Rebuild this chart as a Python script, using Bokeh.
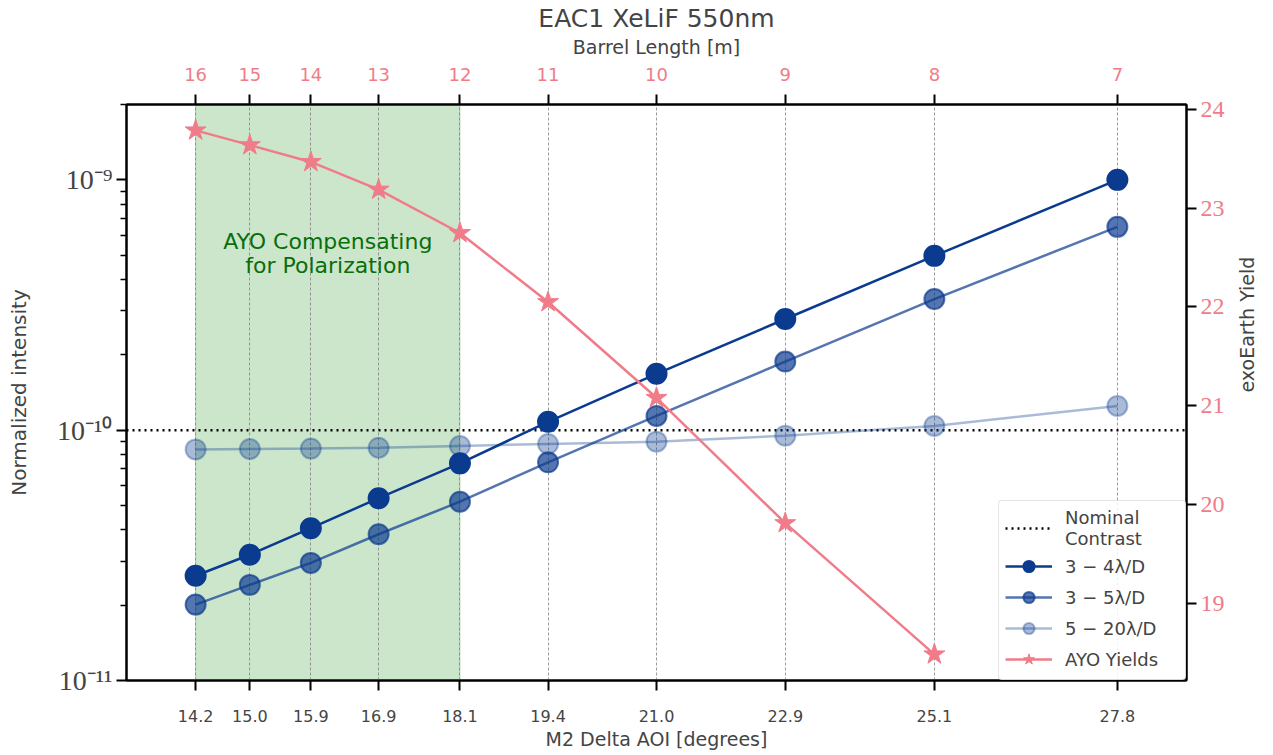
import math
from bokeh.plotting import figure
from bokeh.models import (Range1d, LinearAxis, LinearScale, FixedTicker, BoxAnnotation, Label,
                          Legend, LegendItem)
from bokeh.embed import file_html
from bokeh.resources import INLINE

# ---------------- data ----------------
aoi = [14.2, 15.0, 15.9, 16.9, 18.1, 19.4, 21.0, 22.9, 25.1, 27.8]
barrel_length = [16, 15, 14, 13, 12, 11, 10, 9, 8, 7]
contrast_3_4 = [2.62e-11, 3.18e-11, 4.06e-11, 5.35e-11, 7.37e-11, 1.08e-10, 1.68e-10, 2.78e-10, 4.97e-10, 1.0e-9]
contrast_3_5 = [2.01e-11, 2.41e-11, 2.95e-11, 3.84e-11, 5.18e-11, 7.44e-11, 1.14e-10, 1.88e-10, 3.34e-10, 6.49e-10]
contrast_5_20 = [8.38e-11, 8.41e-11, 8.44e-11, 8.51e-11, 8.65e-11, 8.81e-11, 9.00e-11, 9.51e-11, 1.04e-10, 1.25e-10]
yield_aoi = [14.2, 15.0, 15.9, 16.9, 18.1, 19.4, 21.0, 22.9, 25.1]
ayo_yields = [23.79, 23.64, 23.47, 23.19, 22.75, 22.05, 21.08, 19.81, 18.48]
nominal_contrast = 1e-10
compensating_span = (14.2, 18.1)
yield_ticks = [19, 20, 21, 22, 23, 24]
log_major = [1e-11, 1e-10, 1e-9]
log_labels = ["10\u207b\u00b9\u00b9", "10\u207b\u00b9\u2070", "10\u207b\u2079"]

NAVY = "#0b3b8f"
PINK = "#f07c89"
SANS = "DejaVu Sans"
SERIF = "Liberation Serif"

X0, X1 = 13.18, 28.82
Y2 = (18.215, 24.052)
W, H = 1271, 752
p = figure(width=W, height=H, x_range=Range1d(X0, X1), y_range=Range1d(1e-11, 2e-9),
           y_axis_type="log", output_backend="svg", toolbar_location=None,
           min_border_left=126, min_border_right=W - 1186, min_border_top=104,
           min_border_bottom=H - 680)

p.title.text = "EAC1 XeLiF 550nm"
p.title.align = "center"
p.title.text_font = SANS
p.title.text_font_size = "25px"
p.title.text_font_style = "normal"
p.title.standoff = 0

p.outline_line_color = "black"
p.outline_line_width = 2
p.background_fill_color = "white"
p.border_fill_color = "white"

# ---- axes ----
def style_axis(ax):
    ax.axis_line_width = 2
    ax.major_tick_line_width = 2
    ax.major_tick_out = 10
    ax.major_tick_in = 0
    ax.minor_tick_in = 0
    ax.minor_tick_out = 6
    ax.minor_tick_line_width = 1.5
    ax.axis_label_text_font = SANS
    ax.axis_label_text_font_style = "normal"
    ax.axis_label_text_font_size = "19px"
    ax.major_label_text_font = SANS
    ax.major_label_text_font_size = "16px"

xb = p.xaxis[0]
style_axis(xb)
xb.ticker = FixedTicker(ticks=aoi)
xb.major_label_overrides = {a: f"{a:.1f}" for a in aoi}
xb.major_label_standoff = 19
xb.axis_label_standoff = 3
xb.axis_label = "M2 Delta AOI [degrees]"

yl = p.yaxis[0]
style_axis(yl)
minor = [k * 10.0 ** e for e in (-11, -10) for k in range(2, 10)] + [2e-9]
yl.ticker = FixedTicker(ticks=log_major, minor_ticks=minor)
yl.major_label_overrides = dict(zip(log_major, log_labels))
yl.major_label_text_font = SERIF
yl.major_label_text_font_size = "28px"
yl.major_label_standoff = 4
yl.axis_label_standoff = 23
yl.axis_label_text_font_size = "20px"
yl.axis_label = "Normalized intensity"

xt = LinearAxis(ticker=FixedTicker(ticks=aoi),
                major_label_overrides={a: str(b) for a, b in zip(aoi, barrel_length)},
                axis_label="Barrel Length [m]")
style_axis(xt)
xt.major_label_text_color = PINK
xt.major_label_text_font_size = "18px"
xt.major_label_standoff = 14
xt.axis_label_standoff = 7
p.add_layout(xt, "above")

p.extra_y_ranges = {"yield": Range1d(*Y2)}
p.extra_y_scales = {"yield": LinearScale()}
yr = LinearAxis(y_range_name="yield", ticker=FixedTicker(ticks=yield_ticks),
                axis_label="exoEarth Yield")
style_axis(yr)
yr.major_label_text_color = PINK
yr.major_label_text_font = SERIF
yr.major_label_text_font_size = "24px"
yr.major_label_standoff = 4
yr.axis_label_standoff = 19
try:
    yr.axis_label_orientation = math.pi / 2
except Exception:
    pass
p.add_layout(yr, "right")

# ---- grid ----
p.ygrid.visible = False
p.xgrid.ticker = FixedTicker(ticks=aoi)
p.xgrid.grid_line_color = "#808080"
p.xgrid.grid_line_width = 0.8
p.xgrid.grid_line_dash = "3 2"

# ---- span ----
p.add_layout(BoxAnnotation(left=compensating_span[0], right=compensating_span[1],
                           fill_color="green", fill_alpha=0.2,
                           line_color="green", line_alpha=0.25, line_width=1,
                           level="image"))
mid = (compensating_span[0] + compensating_span[1]) / 2
for txt, yy in (("AYO Compensating", 5.65e-10), ("for Polarization", 4.54e-10)):
    p.add_layout(Label(x=mid, y=yy, text=txt, text_align="center", text_baseline="middle",
                       text_color="#0a6e0a", text_font=SANS, text_font_size="22px"))

# ---- series ----
r_nom = p.line([X0, X1], [nominal_contrast, nominal_contrast], line_color="black",
               line_width=2.5, line_dash="2 4")

def series(y, alpha):
    l = p.line(aoi, y, line_color=NAVY, line_width=2.5, line_alpha=alpha)
    s = p.scatter(aoi, y, size=20, marker="circle", fill_color=NAVY, fill_alpha=alpha,
                  line_color=NAVY, line_alpha=alpha, line_width=2)
    return [l, s]

r34 = series(contrast_3_4, 1.0)
r35 = series(contrast_3_5, 0.7)
r520 = series(contrast_5_20, 0.35)

ly = p.line(yield_aoi, ayo_yields, line_color=PINK, line_width=2.5, y_range_name="yield")
sy = p.scatter(yield_aoi, ayo_yields, marker="star", size=22, fill_color=PINK,
               line_color=PINK, y_range_name="yield")

legend = Legend(items=[
    LegendItem(label="Nominal\nContrast", renderers=[r_nom]),
    LegendItem(label="3 \u2212 4\u03bb/D", renderers=r34),
    LegendItem(label="3 \u2212 5\u03bb/D", renderers=r35),
    LegendItem(label="5 \u2212 20\u03bb/D", renderers=r520),
    LegendItem(label="AYO Yields", renderers=[ly, sy]),
], location="bottom_right")
legend.margin = 0
legend.padding = 6
legend.spacing = 3
legend.glyph_width = 47
legend.glyph_height = 28
legend.label_standoff = 13
legend.label_width = 114
legend.label_text_font = SANS
legend.label_text_font_size = "18px"
legend.border_line_color = "#cccccc"
legend.border_line_width = 1.5
legend.background_fill_alpha = 0.85
try:
    legend.border_radius = 4
except Exception:
    pass
p.add_layout(legend)

open("out.html", "w").write(file_html(p, INLINE))
